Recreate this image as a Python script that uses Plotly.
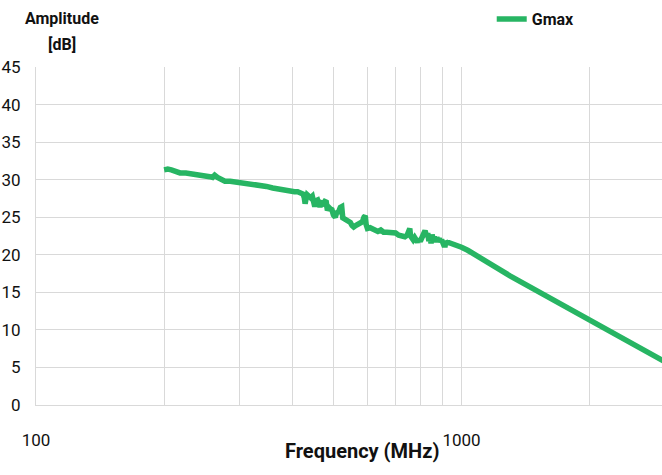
import plotly.graph_objects as go

freq_mhz = [200, 204, 208, 212, 218, 225, 234, 240, 247, 252, 256, 260, 263, 267, 272, 278, 286, 296,
            304, 312, 320, 330, 338, 348, 360, 374, 385, 395, 405, 412, 418, 424, 427, 429, 431, 434,
            438, 442, 446, 449, 452, 455, 459, 462, 465, 469, 473, 477, 481, 484, 488, 492, 496,
            500, 505, 509, 514, 519, 523, 526, 531, 537, 543, 548, 553, 558, 564, 570, 578, 585,
            590, 594, 597, 601, 610, 618, 626, 636, 646, 656, 668, 680, 692, 700, 712, 724, 736,
            745, 752, 756, 759, 764, 770, 776, 782, 788, 794, 800, 806, 812, 817, 821, 825, 829,
            833, 838, 843, 848, 853, 858, 863, 869, 875, 880, 886, 892, 898, 904, 910, 914, 918,
            925, 935, 950, 965, 982, 1000, 1034, 1100, 1200, 1300, 1400, 1500, 1600, 1700, 1800,
            1900, 2000, 2150, 2300, 2450, 2600, 2750, 2900, 3000]
gmax_db = [31.3, 31.4, 31.3, 31.1, 30.9, 30.9, 30.8, 30.7, 30.5, 30.6, 30.4, 30.3, 30.6, 30.3, 30.1, 29.8, 29.8, 29.7,
           29.5, 29.4, 29.4, 29.3, 29.2, 29.1, 28.9, 28.7, 28.6, 28.5, 28.4, 28.4, 28.2, 28.1, 27.6, 26.8, 27.4, 28.0,
           27.8, 27.6, 27.8, 27.0, 26.4, 27.2, 27.3, 26.8, 26.4, 26.9, 26.8, 27.1, 27.0, 25.9, 26.3, 26.1, 26.0,
           25.3, 25.0, 25.6, 25.7, 26.3, 26.4, 24.9, 24.8, 24.6, 24.4, 24.3, 23.9, 23.7, 23.9, 24.0, 24.3, 24.4,
           25.0, 25.2, 24.0, 23.5, 23.6, 23.5, 23.4, 23.1, 23.3, 23.0, 23.0, 22.9, 22.8, 22.9, 22.6, 22.5, 22.4,
           22.6, 23.3, 23.5, 22.5, 22.2, 22.0, 22.3, 21.9, 21.7, 22.1, 21.8, 22.2, 22.5, 22.9, 23.2, 22.8, 22.4,
           22.9, 21.8, 22.6, 21.5, 22.7, 22.0, 22.4, 21.7, 22.3, 21.9, 22.2, 21.7, 22.0, 21.6, 21.8, 21.0, 21.8,
           21.6, 21.6, 21.5, 21.3, 21.2, 21.0, 20.6, 19.6, 18.4, 17.2, 16.2, 15.3, 14.4, 13.6, 12.8,
           12.1, 11.4, 10.4, 9.5, 8.6, 7.8, 7.0, 6.3, 5.8]

x_tick_vals = [100, 200, 300, 400, 500, 600, 700, 800, 900, 1000, 2000, 3000]
x_tick_text = ["100", "", "", "", "", "", "", "", "", "1000", "", ""]
y_tick_vals = [0, 5, 10, 15, 20, 25, 30, 35, 40, 45]

FONT = "Roboto, Liberation Sans Narrow, sans-serif"
GREEN = "#27b563"
GRID = "#d9d9d9"
TXT = "#111111"

fig = go.Figure()
fig.add_trace(go.Scatter(x=freq_mhz, y=gmax_db, mode="lines", name="Gmax",
                         line=dict(color=GREEN, width=5.5)))

fig.update_layout(
    width=662, height=475,
    margin=dict(l=36, r=0, t=67, b=70, autoexpand=False),
    paper_bgcolor="white", plot_bgcolor="white",
    font=dict(family=FONT, color=TXT, size=17),
    showlegend=True,
    legend=dict(orientation="h", x=0.728, y=1.142, xanchor="left", yanchor="middle",
                font=dict(family=FONT, size=16, color=TXT, weight="bold"),
                bgcolor="rgba(0,0,0,0)"),
    xaxis=dict(type="log", range=[2, 3.4712], tickvals=x_tick_vals, ticktext=x_tick_text,
               showgrid=True, gridcolor=GRID, gridwidth=1,
               showline=True, linecolor=GRID, linewidth=1,
               ticks="outside", ticklen=20, tickcolor="rgba(0,0,0,0)",
               tickfont=dict(family=FONT, size=17, color=TXT), zeroline=False),
    yaxis=dict(range=[0, 45], tickvals=y_tick_vals, showgrid=True, gridcolor=GRID, gridwidth=1,
               showline=True, linecolor=GRID, linewidth=1,
               ticks="outside", ticklen=11, tickcolor="rgba(0,0,0,0)",
               tickfont=dict(family=FONT, size=17, color=TXT), zeroline=False),
)

fig.add_annotation(text="<b>Frequency (MHz)</b>", xref="paper", yref="paper",
                   x=(362 - 36) / 626, y=-(451 - 405) / 338, showarrow=False,
                   xanchor="center", yanchor="middle",
                   font=dict(family=FONT, size=20, color=TXT))
fig.add_annotation(text="<b>Amplitude</b>", xref="paper", yref="paper",
                   x=(62 - 36) / 626, y=1 + (67 - 19) / 338, showarrow=False,
                   xanchor="center", yanchor="middle",
                   font=dict(family=FONT, size=16, color=TXT))
fig.add_annotation(text="<b>[dB]</b>", xref="paper", yref="paper",
                   x=(62 - 36) / 626, y=1 + (67 - 44) / 338, showarrow=False,
                   xanchor="center", yanchor="middle",
                   font=dict(family=FONT, size=16, color=TXT))

fig.write_html("out.html", config={"displayModeBar": False},
               post_script="document.body.style.margin='0';")
